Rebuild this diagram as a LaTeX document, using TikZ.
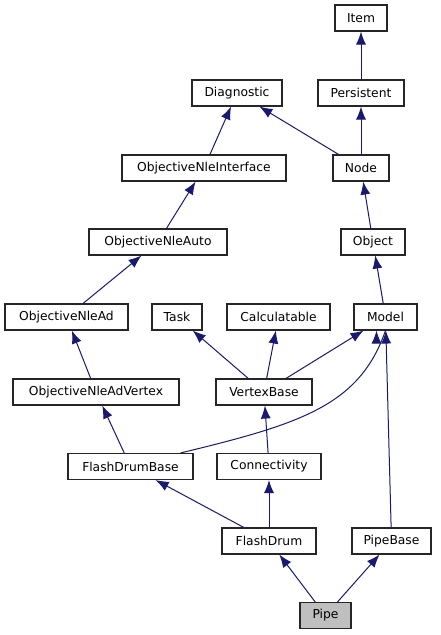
\documentclass[tikz,border=0pt]{standalone}
\usepackage{fontspec}
\setmainfont{DejaVu Sans}
\usetikzlibrary{arrows.meta}
\definecolor{edgeblue}{HTML}{191970}
\definecolor{boxgray}{HTML}{BFBFBF}
\begin{document}
\begin{tikzpicture}[x=1pt,y=-1pt,
  cls/.style={draw=black!85,line width=1.1pt,fill=white,rectangle,minimum height=26pt,inner sep=0pt,font=\fontsize{12.3}{14}\selectfont},
  inh/.style={draw=edgeblue,line width=1pt,-{Latex[length=13pt,width=10pt]}}]
\useasboundingbox (0,0) rectangle (440,635);
\node[cls,minimum width=52pt] (Item) at (361,18) {Item};
\node[cls,minimum width=86pt] (Persistent) at (361,93) {Persistent};
\node[cls,minimum width=90pt] (Diagnostic) at (237,93) {Diagnostic};
\node[cls,minimum width=56pt] (Node) at (361,168) {Node};
\node[cls,minimum width=164pt] (ONI) at (204,168) {ObjectiveNleInterface};
\node[cls,minimum width=138pt] (ONAuto) at (158,242) {ObjectiveNleAuto};
\node[cls,minimum width=64pt] (Object) at (373,242) {Object};
\node[cls,minimum width=123pt] (ONAd) at (66.5,317) {ObjectiveNleAd};
\node[cls,minimum width=50pt] (Task) at (177,317) {Task};
\node[cls,minimum width=103pt] (Calc) at (278.5,317) {Calculatable};
\node[cls,minimum width=63pt] (Model) at (385.5,317) {Model};
\node[cls,minimum width=166pt] (ONAdV) at (96,392) {ObjectiveNleAdVertex};
\node[cls,minimum width=96pt] (VB) at (264,392) {VertexBase};
\node[cls,minimum width=125pt] (FDB) at (130.5,466.5) {FlashDrumBase};
\node[cls,minimum width=104pt] (Conn) at (269,466.5) {Connectivity};
\node[cls,minimum width=94pt] (FD) at (269,541) {FlashDrum};
\node[cls,minimum width=79pt] (PB) at (391.5,541) {PipeBase};
\node[cls,minimum width=51pt,fill=boxgray] (Pipe) at (325.5,615.5) {Pipe};

\draw[inh] (Persistent) -- (Item);
\draw[inh] (Node) -- (Persistent);
\draw[inh] (Node) -- (Diagnostic);
\draw[inh] (ONI) -- (Diagnostic);
\draw[inh] (ONAuto) -- (ONI);
\draw[inh] (Object) -- (Node);
\draw[inh] (ONAd) -- (ONAuto);
\draw[inh] (Model) -- (Object);
\draw[inh] (ONAdV) -- (ONAd);
\draw[inh] (VB) -- (Task);
\draw[inh] (VB) -- (Calc);
\draw[inh] (VB) -- (Model);
\draw[inh] (FDB) -- (ONAdV);
\draw[inh] (FDB.north east) ++(-13,0) .. controls +(120,-29) and +(-26,75) .. (Model.south) ++(-9,0);
\draw[inh] (Conn) -- (VB);
\draw[inh] (PB) -- (Model);
\draw[inh] (FD) -- (FDB);
\draw[inh] (FD) -- (Conn);
\draw[inh] (Pipe) -- (FD);
\draw[inh] (Pipe) -- (PB);
\end{tikzpicture}
\end{document}
